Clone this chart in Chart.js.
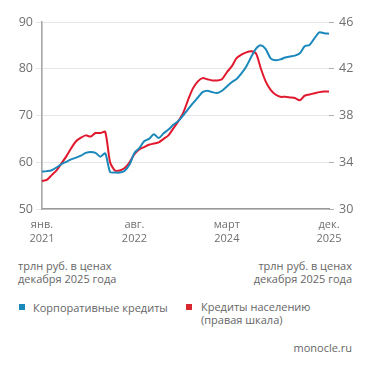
<!DOCTYPE html>
<html>
<head>
<meta charset="utf-8">
<script src="https://cdn.jsdelivr.net/npm/chart.js"></script>
<style>
  html, body { margin: 0; padding: 0; background: #fff; }
  body { width: 371px; height: 370px; position: relative; overflow: hidden;
         font-family: "Open Sans", sans-serif; color: #666; }
  #wrap { position: absolute; left: 0; top: 0; width: 371px; height: 250px; }
  .t { position: absolute; font-size: 11px; line-height: 13px; white-space: nowrap; }
  .sq { position: absolute; width: 6px; height: 6px; }
</style>
</head>
<body>
<div id="wrap"><canvas id="chart"></canvas></div>

<div class="t" style="left:18px; top:259px;">трлн руб. в ценах<br>декабря 2025 года</div>
<div class="t" style="right:19px; top:259px; text-align:right;">трлн руб. в ценах<br>декабря 2025 года</div>

<div class="sq" style="left:19px; top:304px; background:#1a88bb;"></div>
<div class="t" style="left:33px; top:301px;">Корпоративные кредиты</div>
<div class="sq" style="left:186px; top:304px; background:#d9262f;"></div>
<div class="t" style="left:201px; top:301px; line-height:12.5px;">Кредиты населению<br>(правая шкала)</div>

<div class="t" style="right:19px; top:341px;">monocle.ru</div>

<script>
// месяцы янв. 2021 - дек. 2025
const startYear = 2021;
const years = 5;
const tickIdx = [0, 19, 38, 59];
const tickText = [['янв.', '2021'], ['авг.', '2022'], ['март', '2024'], ['дек.', '2025']];

// корпоративные кредиты, трлн руб. (левая шкала)
const corporate = [
  58.0, 58.1, 58.3, 58.9, 59.6, 60.1, 60.6, 61.0, 61.4, 62.0,
  62.2, 62.0, 61.2, 61.9, 57.9, 57.8, 57.8, 58.2, 59.5, 62.0,
  63.0, 64.5, 65.0, 66.0, 65.2, 66.2, 67.0, 68.0, 68.8, 70.0,
  71.3, 72.6, 73.8, 75.0, 75.3, 75.0, 74.8, 75.3, 76.2, 77.1,
  77.8, 79.0, 80.5, 82.5, 84.3, 85.0, 84.2, 82.2, 81.8, 82.0,
  82.4, 82.6, 82.8, 83.3, 84.8, 85.1, 86.5, 87.8, 87.6, 87.5
];

// кредиты населению, трлн руб. (правая шкала)
const household = [
  32.4, 32.5, 32.9, 33.3, 33.9, 34.5, 35.2, 35.8, 36.1, 36.3,
  36.2, 36.5, 36.5, 36.6, 34.0, 33.3, 33.3, 33.5, 34.0, 34.7,
  35.1, 35.3, 35.5, 35.6, 35.7, 36.0, 36.3, 36.9, 37.5, 38.2,
  39.3, 40.3, 40.9, 41.2, 41.1, 41.0, 41.0, 41.1, 41.7, 42.2,
  42.9, 43.2, 43.4, 43.5, 43.3, 42.0, 40.9, 40.2, 39.8, 39.6,
  39.6, 39.55, 39.5, 39.3, 39.7, 39.8, 39.9, 40.0, 40.05, 40.05
];

const labels = [];
for (let y = 0; y < years; y++) {
  for (let m = 1; m <= 12; m++) labels.push((startYear + y) + '-' + String(m).padStart(2, '0'));
}

const FONT = { family: '"Open Sans", sans-serif', size: 12.5 };
const GRID = '#e6e6e6';

new Chart(document.getElementById('chart'), {
  type: 'line',
  data: {
    labels,
    datasets: [
      { label: 'Корпоративные кредиты', data: corporate, yAxisID: 'y',
        borderColor: '#1a88bb', borderWidth: 2, pointRadius: 0, tension: 0.25 },
      { label: 'Кредиты населению', data: household, yAxisID: 'y1',
        borderColor: '#e0192e', borderWidth: 2, pointRadius: 0, tension: 0.25 }
    ]
  },
  options: {
    responsive: true,
    maintainAspectRatio: false,
    animation: false,
    layout: { padding: { top: 22, left: 0, right: 0, bottom: 0 } },
    plugins: { legend: { display: false }, tooltip: { enabled: false } },
    scales: {
      x: {
        type: 'category',
        offset: false,
        afterFit: s => { s.height = 41; },
        border: { color: '#9a9a9a', width: 1.5 },
        grid: {
          color: c => tickIdx.includes(c.index) ? GRID : 'rgba(0,0,0,0)',
          drawTicks: false
        },
        ticks: {
          autoSkip: false, maxRotation: 0, padding: 9,
          color: '#707070', font: { ...FONT, size: 11, lineHeight: 1.27 },
          callback: (v, i) => {
            const k = tickIdx.indexOf(i);
            return k >= 0 ? tickText[k] : null;
          }
        }
      },
      y: {
        position: 'left', min: 50, max: 90,
        afterFit: s => { s.width = 42; },
        border: { color: '#a8a8a8', width: 1.5 },
        grid: { color: GRID, tickLength: 6 },
        ticks: { stepSize: 10, padding: 3, color: '#707070', font: FONT }
      },
      y1: {
        position: 'right', min: 30, max: 46,
        afterFit: s => { s.width = 42; },
        border: { display: false },
        grid: { drawOnChartArea: false, color: '#b0b0b0', tickLength: 5 },
        ticks: { stepSize: 4, padding: 5, color: '#707070', font: FONT }
      }
    }
  }
});
</script>
</body>
</html>
